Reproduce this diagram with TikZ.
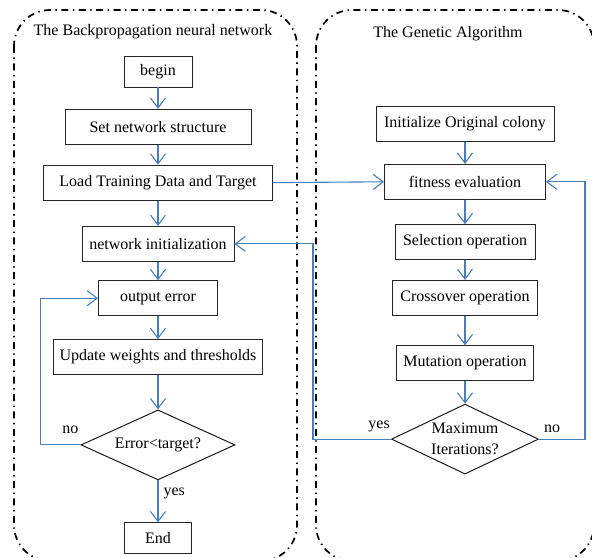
\documentclass[tikz,border=0pt]{standalone}
\usepackage{fontspec}
\setmainfont{Liberation Serif}
\usepackage{tikz}
\usetikzlibrary{arrows.meta,positioning,shapes.geometric}

\definecolor{flowblue}{HTML}{4A7EBB}

\begin{document}
\begin{tikzpicture}[
  x=1bp, y=-1bp,
  font=\fontsize{16bp}{19bp}\selectfont,
  box/.style={draw=black!85, line width=0.8bp, align=center,
              inner sep=2bp, minimum height=35bp},
  test/.style={draw=black!90, line width=1bp, diamond, aspect=2.2,
               inner sep=0bp, align=center, minimum width=154bp,
               minimum height=70bp},
  flow/.style={-{Straight Barb[length=10bp,width=15bp]}, line width=1.1bp,
               flowblue},
  frame/.style={draw, line width=1.7bp, rounded corners=36bp,
                dash pattern=on 7bp off 4.5bp on 1.4bp off 4.5bp},
  lbl/.style={inner sep=1bp, text=black}]
\useasboundingbox (0,0) rectangle (592,558);
\begin{scope}
\clip (0,0) rectangle (592,558);
\draw[frame] (14,10) rectangle (297,561);
\draw[frame] (316,10) rectangle (594,561);
\end{scope}
\node (bptitle) at (153,32) {The Backpropagation neural network};
\node (gatitle) at (448,34) {The Genetic Algorithm};
% backpropagation side
\node[box, minimum width=68bp, minimum height=31bp] (begin) at (158,71.5) {begin};
\node[box, minimum width=186bp, below=21.5bp of begin] (netset) {Set network structure};
\node[box, minimum width=229bp, below=20bp of netset] (load) {Load Training Data and Target};
\node[box, minimum width=152bp, below=25.5bp of load] (netinit) {network initialization};
\node[box, minimum width=119bp, below=18.5bp of netinit] (outerr) {output error};
\node[box, minimum width=209bp, below=23bp of outerr] (update) {Update weights and thresholds};
\node[test, below=34.5bp of update] (errtest) {Error<target?};
\node[box, minimum width=67bp, minimum height=31bp, below=42bp of errtest] (finish) {End};
% genetic side
\node[box, minimum width=178bp] (colony) at (465,124) {Initialize Original colony};
\node[box, minimum width=161bp, below=22bp of colony] (fitness) {fitness evaluation};
\node[box, minimum width=140bp, below=24.5bp of fitness] (select) {Selection operation};
\node[box, minimum width=145bp, below=20bp of select] (cross) {Crossover operation};
\node[box, minimum width=137bp, below=29.5bp of cross] (mutate) {Mutation operation};
\node[test, minimum width=147bp, aspect=2.1, below=22.5bp of mutate,
      font=\fontsize{16bp}{21bp}\selectfont] (maxit) {Maximum\\Iterations?};
% connectors
\draw[flow] (begin) -- (netset);
\draw[flow] (netset) -- (load);
\draw[flow] (load) -- (netinit);
\draw[flow] (netinit) -- (outerr);
\draw[flow] (outerr) -- (update);
\draw[flow] (update) -- (errtest);
\draw[flow] (errtest) -- (finish) node[lbl, pos=0.3, right=4bp] {yes};
\draw[flow] (errtest.west) -- ++(-40,0) |- (outerr.west);
\node[lbl, above left=10bp and 1bp of errtest.west] (errno) {no};
\draw[flow] (load.east) -- (fitness.west);
\draw[flow] (colony) -- (fitness);
\draw[flow] (fitness) -- (select);
\draw[flow] (select) -- (cross);
\draw[flow] (cross) -- (mutate);
\draw[flow] (mutate) -- (maxit);
\draw[flow] (maxit.west) -- ++(-78,0) |- (netinit.east);
\draw[flow] (maxit.east) -- ++(46,0) |- (fitness.east);
\node[lbl, above left=6bp and 0bp of maxit.west] (maxyes) {yes};
\node[lbl, above right=5bp and 4bp of maxit.east] (maxno) {no};
\end{tikzpicture}
\end{document}
